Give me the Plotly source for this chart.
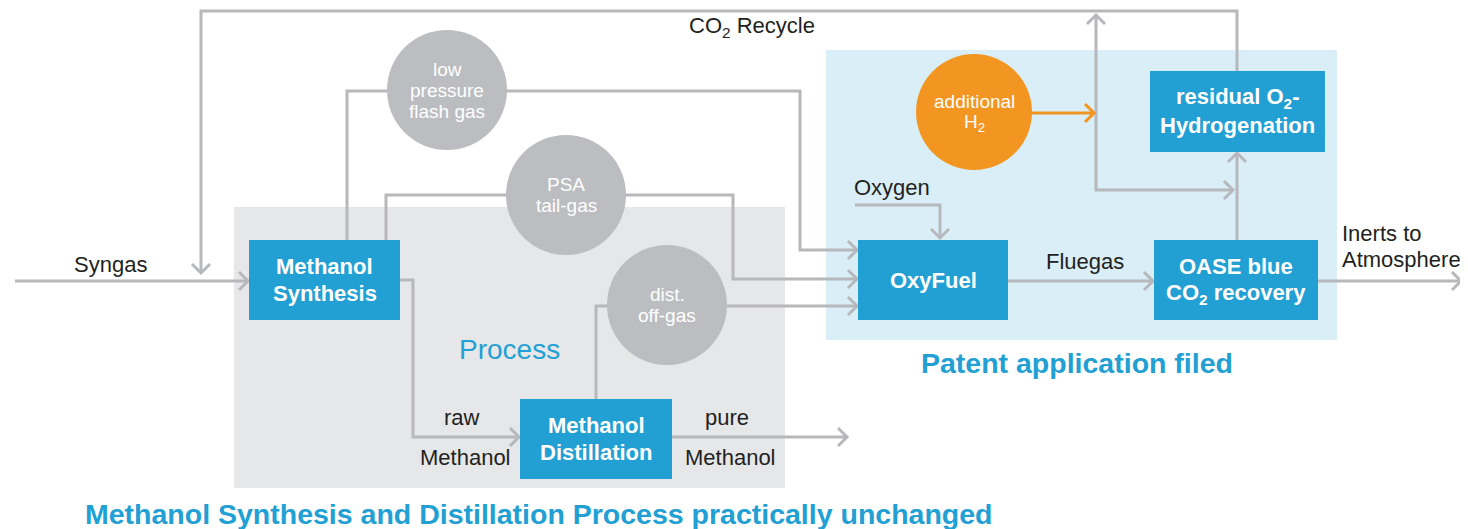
import plotly.graph_objects as go

# canvas in pixel units (y grows downward); the page body has an 8px margin
W, H = 1468, 529
PAD = 8

LINE = "#b7b8bb"
BLUE = "#22a0d4"
GREY_NODE = "#bcbdc0"
ORANGE = "#f39621"
TXT = "#231f20"
FONT = "Liberation Sans, Arial"

# process boxes
box_labels = ["<b>Methanol<br>Synthesis</b>", "<b>Methanol<br>Distillation</b>", "<b>OxyFuel</b>",
              "<b>OASE blue<br>CO<sub>2</sub> recovery</b>", "<b>residual O<sub>2</sub>-<br>Hydrogenation</b>"]
box_x0 = [249, 520, 858, 1154, 1150]
box_x1 = [400, 672, 1008, 1318, 1325]
box_y0 = [240, 399, 240, 240, 71]
box_y1 = [320, 479, 320, 320, 152]

# gas stream circles
circle_labels = ["low<br>pressure<br>flash gas", "PSA<br>tail-gas", "dist.<br>off-gas", "additional<br>H<sub>2</sub>"]
circle_cx = [447, 566, 667, 974]
circle_cy = [90, 195, 305, 112]
circle_r = [60, 60, 60, 58]
circle_col = [GREY_NODE, GREY_NODE, GREY_NODE, ORANGE]

# connecting streams: (points, arrow at start, arrow at end, colour)
streams = [
    ([(1237, 71), (1237, 11), (201, 11), (201, 273)], False, True, LINE),
    ([(15, 281), (248, 281)], False, True, LINE),
    ([(347, 240), (347, 91), (387, 91)], False, False, LINE),
    ([(506, 91), (800, 91), (800, 250), (857, 250)], False, True, LINE),
    ([(386, 240), (386, 195), (507, 195)], False, False, LINE),
    ([(625, 195), (733, 195), (733, 279), (857, 279)], False, True, LINE),
    ([(596, 399), (596, 306), (608, 306)], False, False, LINE),
    ([(727, 306), (857, 306)], False, True, LINE),
    ([(400, 280), (413, 280), (413, 437), (519, 437)], False, True, LINE),
    ([(672, 437), (847, 437)], False, True, LINE),
    ([(855, 205), (940, 205), (940, 238)], False, True, LINE),
    ([(1008, 281), (1153, 281)], False, True, LINE),
    ([(1318, 281), (1461, 281)], False, True, LINE),
    ([(1096, 15), (1096, 190), (1233, 190)], True, True, LINE),
    ([(1237, 240), (1237, 153)], False, True, LINE),
    ([(1031, 113), (1094, 113)], False, True, ORANGE),
]

# free text labels: (text, x, y, size, colour, anchor)
labels = [
    ("CO<sub>2</sub> Recycle", 752, 27, 22, TXT, "center"),
    ("Syngas", 110, 264, 22, TXT, "center"),
    ("Process", 509, 349, 28, BLUE, "center"),
    ("raw", 462, 417, 22, TXT, "center"),
    ("Methanol", 465, 457, 22, TXT, "center"),
    ("pure", 727, 417, 22, TXT, "center"),
    ("Methanol", 730, 457, 22, TXT, "center"),
    ("Oxygen", 892, 187, 22, TXT, "center"),
    ("Fluegas", 1085, 261, 22, TXT, "center"),
    ("Inerts to", 1340, 233, 22, TXT, "left"),
    ("Atmosphere", 1340, 259, 22, TXT, "left"),
    ("<b>Patent application filed</b>", 1077, 363, 28.5, BLUE, "center"),
    ("<b>Methanol Synthesis and Distillation Process practically unchanged</b>", 538, 514, 28.5, BLUE, "center"),
]

fig = go.Figure()
shapes = []

# background regions
shapes.append(dict(type="rect", x0=234, x1=785, y0=207, y1=488, fillcolor="#e6e7e9", line_width=0, layer="below"))
shapes.append(dict(type="rect", x0=826, x1=1337, y0=50, y1=340, fillcolor="#d9eef7", line_width=0, layer="below"))


def chevron(p_from, p_to, size=9):
    # open arrowhead at p_to, pointing from p_from
    dx, dy = p_to[0] - p_from[0], p_to[1] - p_from[1]
    n = (dx * dx + dy * dy) ** 0.5
    ux, uy = dx / n, dy / n
    bx, by = p_to[0] - ux * size, p_to[1] - uy * size
    px, py = -uy * size, ux * size
    return [bx + px, p_to[0], bx - px], [by + py, p_to[1], by - py]


for pts, a_start, a_end, col in streams:
    xs = [p[0] for p in pts]
    ys = [p[1] for p in pts]
    fig.add_trace(go.Scatter(x=xs, y=ys, mode="lines", line=dict(color=col, width=3),
                             hoverinfo="skip", showlegend=False))
    heads = []
    if a_end:
        heads.append(chevron(pts[-2], pts[-1]))
    if a_start:
        heads.append(chevron(pts[1], pts[0]))
    for hx, hy in heads:
        fig.add_trace(go.Scatter(x=hx, y=hy, mode="lines", line=dict(color=col, width=3),
                                 hoverinfo="skip", showlegend=False))

for x0, x1, y0, y1 in zip(box_x0, box_x1, box_y0, box_y1):
    shapes.append(dict(type="rect", x0=x0, x1=x1, y0=y0, y1=y1, fillcolor=BLUE, line_width=0, layer="above"))

for cx, cy, r, c in zip(circle_cx, circle_cy, circle_r, circle_col):
    shapes.append(dict(type="circle", x0=cx - r, x1=cx + r, y0=cy - r, y1=cy + r,
                       fillcolor=c, line_width=0, layer="above"))

annotations = []


def stacked(text, x, y, size, gap, color, bold=False):
    # multi-line label with a tighter line gap than plotly's default
    lines = text.replace("<b>", "").replace("</b>", "").split("<br>")
    top = y - gap * (len(lines) - 1) / 2
    for i, ln in enumerate(lines):
        annotations.append(dict(x=x, y=top + i * gap, text=f"<b>{ln}</b>" if bold else ln,
                                showarrow=False, font=dict(family=FONT, size=size, color=color)))


for lab, x0, x1, y0, y1 in zip(box_labels, box_x0, box_x1, box_y0, box_y1):
    stacked(lab, (x0 + x1) / 2, (y0 + y1) / 2, 22, 27, "white", bold=True)
for lab, cx, cy in zip(circle_labels, circle_cx, circle_cy):
    stacked(lab, cx, cy, 19, 21, "white")
for t, x, y, s, c, anc in labels:
    annotations.append(dict(x=x, y=y, text=t, showarrow=False, xanchor=anc,
                            font=dict(family=FONT, size=s, color=c)))
annotations.append(dict(x=7, y=40, text="gains", showarrow=False, xanchor="left",
                        font=dict(family="Open Sans", size=27, color="#333333")))

fig.update_layout(
    width=W - PAD, height=H - PAD,
    margin=dict(l=0, r=0, t=0, b=0),
    paper_bgcolor="white", plot_bgcolor="white",
    shapes=shapes, annotations=annotations,
    xaxis=dict(range=[PAD, W], visible=False, fixedrange=True),
    yaxis=dict(range=[H, PAD], visible=False, fixedrange=True),
)

fig.write_html("out.html")
